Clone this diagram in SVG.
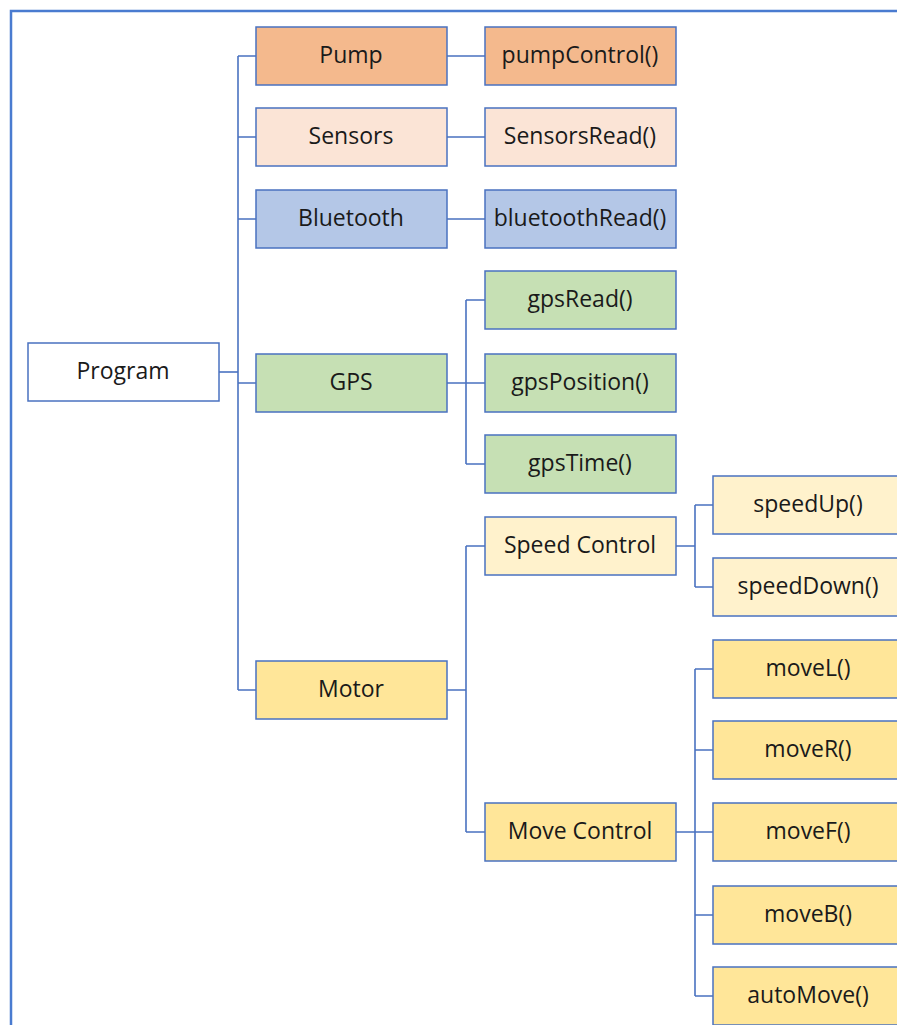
<svg xmlns="http://www.w3.org/2000/svg" width="897" height="1025" viewBox="0 0 897 1025">
<style>
.n rect{stroke:#4a72c0;stroke-width:1.5}
.n text{font-family:"Open Sans","Liberation Sans",sans-serif;font-size:23px;fill:#1a1a1a;text-anchor:middle;dominant-baseline:central}
.c path{fill:none;stroke:#4a72c0;stroke-width:1.6}
</style>
<rect x="0" y="0" width="897" height="1025" fill="#fff"/>
<path d="M11 1025 V11 H897" fill="none" stroke="#4a7bd0" stroke-width="2.5"/>
<g class="c" id="connectors">
<path d="M219 372 H238"/>
<path d="M238 56 V690"/>
<path d="M238 56 H256 M238 137 H256 M238 219 H256 M238 383 H256 M238 690 H256"/>
<path d="M447 56 H485 M447 137 H485 M447 219 H485"/>
<path d="M447 383 H466 M466 300 V464 M466 300 H485 M466 383 H485 M466 464 H485"/>
<path d="M447 690 H466 M466 546 V832 M466 546 H485 M466 832 H485"/>
<path d="M676 546 H695 M695 505 V587 M695 505 H713 M695 587 H713"/>
<path d="M676 832 H695 M695 669 V996 M695 669 H713 M695 750 H713 M695 832 H713 M695 915 H713 M695 996 H713"/>
</g>
<g class="n" id="program"><rect x="28" y="343" width="191" height="58" fill="#ffffff"/><text x="123" y="370">Program</text></g>
<g class="n" id="pump"><rect x="256" y="27" width="191" height="58" fill="#f4b98d"/><text x="351" y="54">Pump</text></g>
<g class="n" id="sensors"><rect x="256" y="108" width="191" height="58" fill="#fbe4d6"/><text x="351" y="135">Sensors</text></g>
<g class="n" id="bluetooth"><rect x="256" y="190" width="191" height="58" fill="#b4c7e7"/><text x="351" y="217">Bluetooth</text></g>
<g class="n" id="gps"><rect x="256" y="354" width="191" height="58" fill="#c6e0b4"/><text x="351" y="381">GPS</text></g>
<g class="n" id="motor"><rect x="256" y="661" width="191" height="58" fill="#ffe699"/><text x="351" y="688">Motor</text></g>
<g class="n" id="pumpControl"><rect x="485" y="27" width="191" height="58" fill="#f4b98d"/><text x="580" y="54">pumpControl()</text></g>
<g class="n" id="sensorsRead"><rect x="485" y="108" width="191" height="58" fill="#fbe4d6"/><text x="580" y="135">SensorsRead()</text></g>
<g class="n" id="bluetoothRead"><rect x="485" y="190" width="191" height="58" fill="#b4c7e7"/><text x="580" y="217">bluetoothRead()</text></g>
<g class="n" id="gpsRead"><rect x="485" y="271" width="191" height="58" fill="#c6e0b4"/><text x="580" y="298">gpsRead()</text></g>
<g class="n" id="gpsPosition"><rect x="485" y="354" width="191" height="58" fill="#c6e0b4"/><text x="580" y="381">gpsPosition()</text></g>
<g class="n" id="gpsTime"><rect x="485" y="435" width="191" height="58" fill="#c6e0b4"/><text x="580" y="462">gpsTime()</text></g>
<g class="n" id="speedControl"><rect x="485" y="517" width="191" height="58" fill="#fff2cc"/><text x="580" y="544">Speed Control</text></g>
<g class="n" id="moveControl"><rect x="485" y="803" width="191" height="58" fill="#ffe699"/><text x="580" y="830">Move Control</text></g>
<g class="n" id="speedUp"><rect x="713" y="476" width="191" height="58" fill="#fff2cc"/><text x="808" y="503">speedUp()</text></g>
<g class="n" id="speedDown"><rect x="713" y="558" width="191" height="58" fill="#fff2cc"/><text x="808" y="585">speedDown()</text></g>
<g class="n" id="moveL"><rect x="713" y="640" width="191" height="58" fill="#ffe699"/><text x="808" y="667">moveL()</text></g>
<g class="n" id="moveR"><rect x="713" y="721" width="191" height="58" fill="#ffe699"/><text x="808" y="748">moveR()</text></g>
<g class="n" id="moveF"><rect x="713" y="803" width="191" height="58" fill="#ffe699"/><text x="808" y="830">moveF()</text></g>
<g class="n" id="moveB"><rect x="713" y="886" width="191" height="58" fill="#ffe699"/><text x="808" y="913">moveB()</text></g>
<g class="n" id="autoMove"><rect x="713" y="967" width="191" height="58" fill="#ffe699"/><text x="808" y="994">autoMove()</text></g>
</svg>
